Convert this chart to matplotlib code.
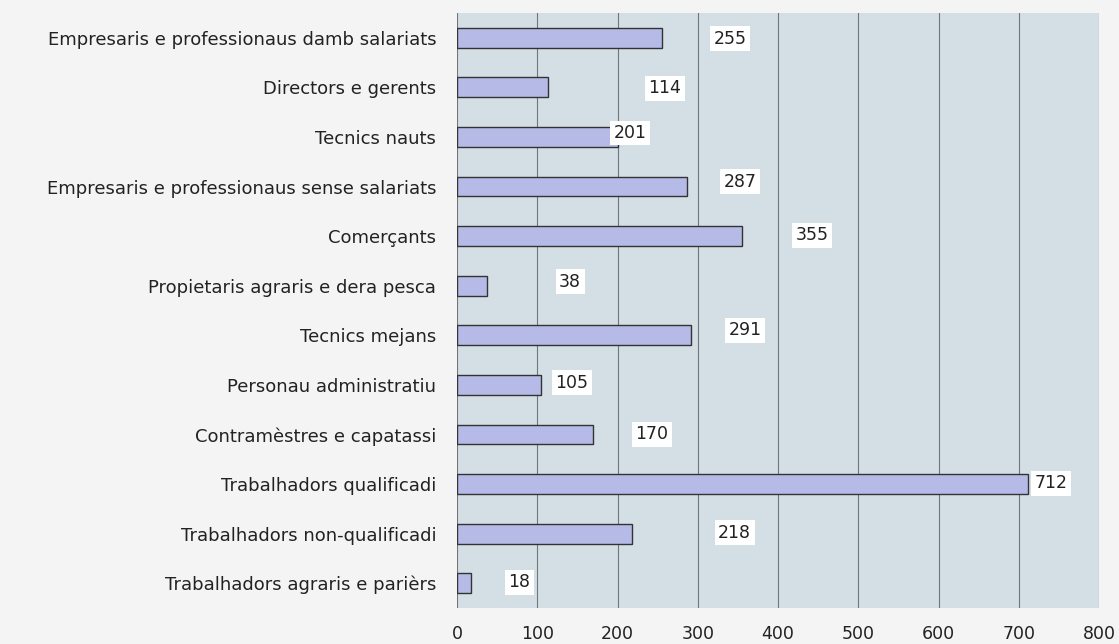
import numpy as np
import matplotlib
matplotlib.use("Agg")
from matplotlib import pyplot as plt

categories = [
    "Empresaris e professionaus damb salariats",
    "Directors e gerents",
    "Tecnics nauts",
    "Empresaris e professionaus sense salariats",
    "Comerçants",
    "Propietaris agraris e dera pesca",
    "Tecnics mejans",
    "Personau administratiu",
    "Contramèstres e capatassi",
    "Trabalhadors qualificadi",
    "Trabalhadors non-qualificadi",
    "Trabalhadors agraris e parièrs",
]
values = [255, 114, 201, 287, 355, 38, 291, 105, 170, 712, 218, 18]
ticks = [0, 100, 200, 300, 400, 500, 600, 700, 800]

# where the value boxes sit (x in data units), as in the original
label_x = [340, 259, 216, 353, 442, 141, 359, 143, 243, 740, 346, 78]
label_dy = [0.02, 0.02, -0.08, -0.1, -0.02, -0.08, -0.1, -0.04, 0.0, -0.02, -0.02, -0.02]

plt.rcParams['font.family'] = ['DejaVu Sans']

fig = plt.figure(figsize=(11.19, 6.44), dpi=100, facecolor="#f4f4f4")
ax = fig.add_axes([457/1119, 36/644, 642/1119, 595/644])
ax.set_facecolor("#d3dfe5")

y = np.arange(len(categories))
ax.barh(y, values, height=0.4, color="#b5bae6", edgecolor="#333333", linewidth=1.0, zorder=3)

for yi, v, lx, dy in zip(y, values, label_x, label_dy):
    ax.text(lx, yi + dy, str(v), ha="center", va="center", fontsize=12.5, color="#222222",
            bbox=dict(facecolor="white", edgecolor="none", pad=2.5), zorder=4)

ax.set_xlim(0, 800)
ax.set_ylim(len(categories) - 0.5, -0.5)
ax.set_xticks(ticks)
ax.set_xticklabels([str(t) for t in ticks], fontsize=12.5, color="#222222")
ax.set_yticks(y)
ax.set_yticklabels(categories, fontsize=13, color="#222222")
ax.tick_params(length=0)
ax.tick_params(axis="x", pad=12)
ax.tick_params(axis="y", pad=15)
ax.xaxis.grid(True, color="#6f7678", linewidth=0.8, zorder=1)
ax.set_axisbelow(True)
for s in ax.spines.values():
    s.set_visible(False)

fig.savefig("out.png", dpi=100, facecolor=fig.get_facecolor())
